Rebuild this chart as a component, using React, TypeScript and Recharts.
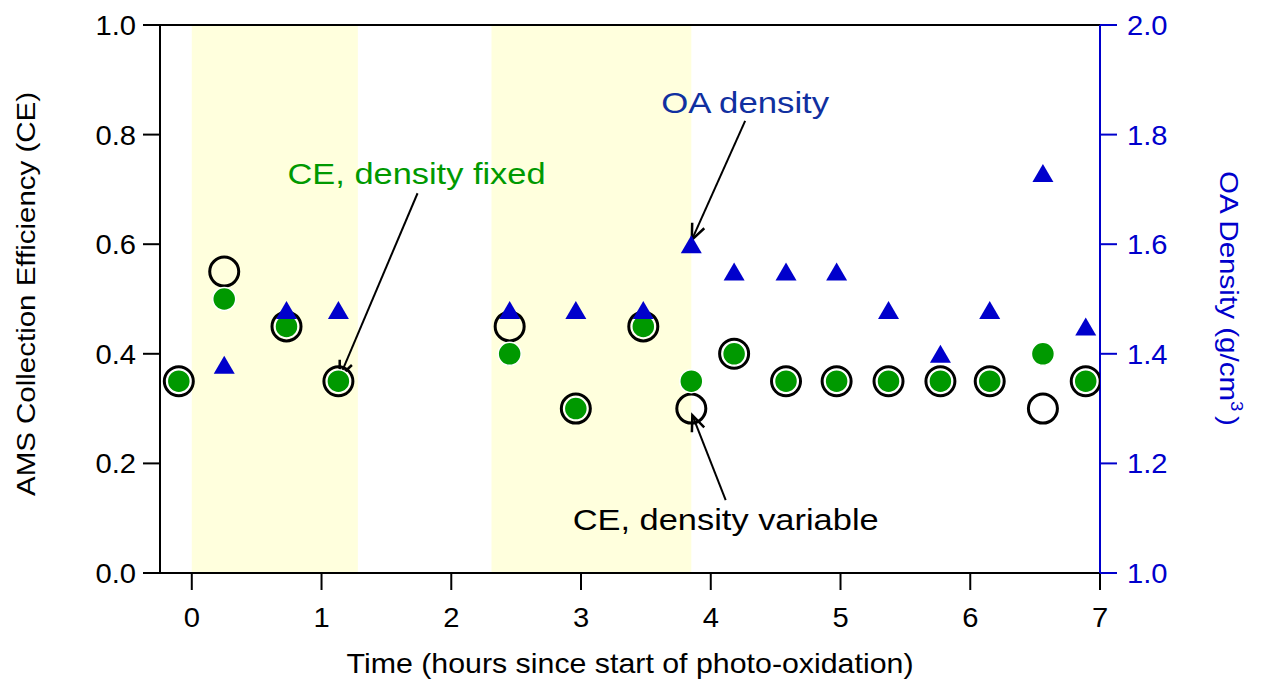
import React from "react";
import {
  ComposedChart,
  Scatter,
  XAxis,
  YAxis,
  ReferenceArea,
  ReferenceLine,
} from "recharts";

// hours since start of photo-oxidation
const times = [-0.1, 0.25, 0.73, 1.13, 2.45, 2.96, 3.48, 3.85, 4.18, 4.58, 4.97, 5.37, 5.77, 6.15, 6.56, 6.89];
const ceVariable = [0.35, 0.55, 0.45, 0.35, 0.45, 0.3, 0.45, 0.3, 0.4, 0.35, 0.35, 0.35, 0.35, 0.35, 0.3, 0.35];
const ceFixed = [0.35, 0.5, 0.45, 0.35, 0.4, 0.3, 0.45, 0.35, 0.4, 0.35, 0.35, 0.35, 0.35, 0.35, 0.4, 0.35];
const oaDensity = [null, 1.38, 1.48, 1.48, 1.48, 1.48, 1.48, 1.6, 1.55, 1.55, 1.55, 1.48, 1.4, 1.48, 1.73, 1.45];

const xTicks = [0, 1, 2, 3, 4, 5, 6, 7];
const ceTicks = [0, 0.2, 0.4, 0.6, 0.8, 1.0];
const densityTicks = [1.0, 1.2, 1.4, 1.6, 1.8, 2.0];
const shaded = [
  [0, 1.28],
  [2.31, 3.85],
];

const FONT = "'Liberation Sans', Arial, sans-serif";
const GREEN = "#009900";
const BLUE = "#0000CC";
const SX = 1.08;

const variableData = times.map((t, i) => ({ x: t, y: ceVariable[i] }));
const fixedData = times.map((t, i) => ({ x: t, y: ceFixed[i] }));
const densityData = times
  .map((t, i) => ({ x: t, y: oaDensity[i] }))
  .filter((d) => d.y !== null);

const OpenCircle = (p: any) => (
  <circle cx={p.cx} cy={p.cy} r={14.5} fill="none" stroke="#000" strokeWidth={3} />
);
const GreenDot = (p: any) => (
  <circle cx={p.cx} cy={p.cy} r={11.5} fill={GREEN} stroke="#fff" strokeWidth={1.5} />
);
const Triangle = (p: any) => (
  <polygon
    points={`${p.cx},${p.cy - 9} ${p.cx - 10.5},${p.cy + 9} ${p.cx + 10.5},${p.cy + 9}`}
    fill={BLUE}
  />
);

const tick = (anchor: string, color: string, fmt: (v: number) => string, dy: number) => (p: any) => (
  <text
    transform={`translate(${p.x},${p.y + dy}) scale(${SX},1)`}
    textAnchor={anchor}
    fontFamily={FONT}
    fontSize={27}
    fill={color}
  >
    {fmt(p.payload.value)}
  </text>
);

const arrow = (text: string, color: string, dx: number, dy: number, len: number) => (p: any) => {
  const { x1, y1, x2, y2 } = p;
  const ang = Math.atan2(y2 - y1, x2 - x1);
  const h = 17;
  const a = 0.4;
  const ax = x2 - h * Math.cos(ang - a);
  const ay = y2 - h * Math.sin(ang - a);
  const bx = x2 - h * Math.cos(ang + a);
  const by = y2 - h * Math.sin(ang + a);
  return (
    <g>
      <line x1={x1} y1={y1} x2={x2} y2={y2} stroke="#000" strokeWidth={2} />
      <polyline points={`${ax},${ay} ${x2},${y2} ${bx},${by}`} fill="none" stroke="#000" strokeWidth={2.5} />
      <text
        x={x1 + dx}
        y={y1 + dy}
        textAnchor="middle"
        fontFamily={FONT}
        fontSize={30}
        fill={color}
        textLength={len}
        lengthAdjust="spacingAndGlyphs"
      >
        {text}
      </text>
    </g>
  );
};

const XTitle = (p: any) => {
  const vb = p.viewBox;
  return (
    <text
      x={vb.x + vb.width / 2}
      y={vb.y + 100}
      textAnchor="middle"
      fontFamily={FONT}
      fontSize={28}
      fill="#000"
      textLength={567}
      lengthAdjust="spacingAndGlyphs"
    >
      Time (hours since start of photo-oxidation)
    </text>
  );
};

const LeftTitle = (p: any) => {
  const vb = p.viewBox;
  const cx = vb.x + 35;
  const cy = vb.y + 269;
  return (
    <text
      transform={`translate(${cx},${cy}) rotate(-90)`}
      textAnchor="middle"
      fontFamily={FONT}
      fontSize={26}
      fill="#000"
      textLength={404}
      lengthAdjust="spacingAndGlyphs"
    >
      AMS Collection Efficiency (CE)
    </text>
  );
};

const RightTitle = (p: any) => {
  const vb = p.viewBox;
  const cx = vb.x + 120;
  const cy = vb.y + 146;
  return (
    <text
      transform={`translate(${cx},${cy}) rotate(90) scale(1.16,1)`}
      textAnchor="start"
      fontFamily={FONT}
      fontSize={25.5}
      fill={BLUE}
    >
      OA Density (g/cm
      <tspan dy={-11} fontSize={16}>3</tspan>
      <tspan dy={11} dx={4}>)</tspan>
    </text>
  );
};

export default function App() {
  return (
    <div style={{ position: "absolute", left: 0, top: 0, background: "#fff" }}>
      <ComposedChart width={1262} height={688} margin={{ top: 25, right: 0, bottom: 0, left: 0 }}>
        <XAxis
          dataKey="x"
          type="number"
          domain={[-0.245, 7]}
          ticks={xTicks}
          allowDataOverflow
          height={115}
          stroke="#000"
          strokeWidth={2}
          tickSize={17}
          tickMargin={17}
          tick={tick("middle", "#000", (v) => String(v), 20)}
          label={<XTitle />}
        />
        <YAxis
          yAxisId="left"
          dataKey="y"
          type="number"
          domain={[0, 1]}
          ticks={ceTicks}
          width={160}
          stroke="#000"
          strokeWidth={2}
          tickSize={17}
          tickMargin={7}
          tick={tick("end", "#000", (v) => v.toFixed(1), 10)}
          label={<LeftTitle />}
        />
        <YAxis
          yAxisId="right"
          orientation="right"
          dataKey="y"
          type="number"
          domain={[1, 2]}
          ticks={densityTicks}
          width={162}
          stroke={BLUE}
          strokeWidth={2}
          tickSize={17}
          tickMargin={10}
          tick={tick("start", BLUE, (v) => v.toFixed(1), 10)}
          label={<RightTitle />}
        />
        {shaded.map(([a, b], i) => (
          <ReferenceArea key={i} yAxisId="left" x1={a} x2={b} y1={0} y2={1} fill="#FFFFDD" fillOpacity={1} stroke="none" />
        ))}
        <ReferenceLine yAxisId="left" y={1} stroke="#000" strokeWidth={2} />
        <Scatter yAxisId="left" data={variableData} dataKey="y" shape={OpenCircle} isAnimationActive={false} />
        <Scatter yAxisId="left" data={fixedData} dataKey="y" shape={GreenDot} isAnimationActive={false} />
        <Scatter yAxisId="right" data={densityData} dataKey="y" shape={Triangle} isAnimationActive={false} />
        <ReferenceLine
          yAxisId="left"
          segment={[{ x: 1.74, y: 0.693 }, { x: 1.14, y: 0.358 }]}
          shape={arrow("CE, density fixed", GREEN, -1, -9, 258)}
        />
        <ReferenceLine
          yAxisId="left"
          segment={[{ x: 4.265, y: 0.825 }, { x: 3.854, y: 0.608 }]}
          shape={arrow("OA density", "#1030A0", 0, -8, 168)}
        />
        <ReferenceLine
          yAxisId="left"
          segment={[{ x: 4.115, y: 0.133 }, { x: 3.858, y: 0.288 }]}
          shape={arrow("CE, density variable", "#000", 0, 30, 306)}
        />
      </ComposedChart>
    </div>
  );
}
